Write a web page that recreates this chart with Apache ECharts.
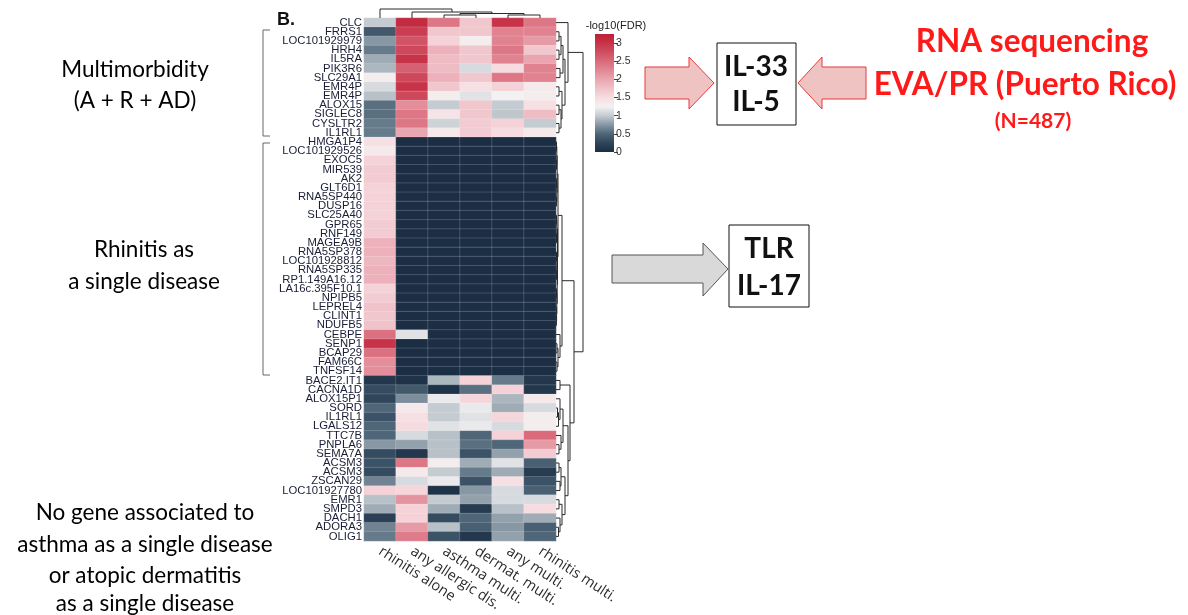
<!DOCTYPE html>
<html><head><meta charset="utf-8">
<script src="https://cdn.jsdelivr.net/npm/echarts@6/dist/echarts.min.js"></script>
<style>html,body{margin:0;padding:0;background:#fff}#c{width:1188px;height:615px}</style>
</head><body><div id="c"></div>
<script>
const genes = ['CLC','FRRS1','LOC101929979','HRH4','IL5RA','PIK3R6','SLC29A1','EMR4P','EMR4P','ALOX15','SIGLEC8','CYSLTR2','IL1RL1',
'HMGA1P4','LOC101929526','EXOC5','MIR539','AK2','GLT6D1','RNA5SP440','DUSP16','SLC25A40','GPR65','RNF149','MAGEA9B','RNA5SP378','LOC101928812','RNA5SP335','RP1.149A16.12','LA16c.395F10.1','NPIPB5','LEPREL4','CLINT1','NDUFB5','CEBPE','SENP1','BCAP29','FAM66C','TNFSF14',
'BACE2.IT1','CACNA1D','ALOX15P1','SORD','IL1RL1','LGALS12','TTC7B','PNPLA6','SEMA7A','ACSM3','ACSM3','ZSCAN29','LOC101927780','EMR1','SMPD3','DACH1','ADORA3','OLIG1'];
const conditions = ['rhinitis alone','any allergic dis.','asthma multi.','dermat. multi.','any multi.','rhinitis multi.'];

// -log10(FDR) per condition, one value per gene (row order above)
const rhinitisAlone = [1.0,0.4,0.75,0.6,0.85,0.9,1.3,1.1,0.95,0.55,0.55,0.6,0.6,
1.45,1.35,1.6,1.65,1.65,1.6,1.6,1.6,1.6,1.65,1.65,1.9,1.9,1.85,1.9,1.9,1.6,1.65,1.75,1.7,1.75,2.45,3.0,2.45,2.2,2.2,
0.1,0.3,0.25,0.5,0.35,0.5,0.5,0.75,0.3,0.35,0.3,0.65,1.6,0.95,0.85,0.2,0.65,0.6];
const anyAllergic = [3.1,2.9,2.7,2.8,3.0,2.6,2.8,3.0,2.8,2.2,2.4,2.4,2.0,
0,0,0,0,0,0,0,0,0,0,0,0,0,0,0,0,0,0,0,0,0,1.15,0,0,0,0,
0.05,0.4,0.7,1.35,1.45,1.5,1.1,0.8,0.1,2.4,1.35,1.1,1.55,2.15,1.6,1.6,2.1,2.35];
const asthmaMulti = [2.4,1.7,1.6,1.9,1.8,1.8,1.9,1.7,1.3,1.0,1.4,1.05,1.35,
0,0,0,0,0,0,0,0,0,0,0,0,0,0,0,0,0,0,0,0,0,0,0,0,0,0,
0.9,0.05,1.2,1.0,1.0,1.15,0.95,0.95,0.95,1.3,1.0,1.2,0.05,1.0,0.85,0.3,0.95,0.35];
const dermatMulti = [1.7,1.7,1.3,1.7,1.7,1.1,1.7,1.45,1.15,1.7,1.7,1.65,1.65,
0,0,0,0,0,0,0,0,0,0,0,0,0,0,0,0,0,0,0,0,0,0,0,0,0,0,
1.6,0.55,1.55,1.2,1.15,1.2,0.5,0.55,0.35,0.85,0.6,0.35,0.75,0.8,0.15,0.5,0.45,0.1];
const anyMulti = [3.0,2.3,2.3,2.4,2.3,1.5,2.4,1.6,1.25,1.0,0.98,1.6,1.5,
0,0,0,0,0,0,0,0,0,0,0,0,0,0,0,0,0,0,0,0,0,0,0,0,0,0,
0.6,1.6,0.9,0.85,1.55,1.1,1.6,0.5,0.8,1.15,0.85,1.45,1.1,1.1,0.95,0.8,0.75,0.8];
const rhinitisMulti = [2.4,2.3,2.1,1.7,2.0,2.3,2.3,1.35,1.3,1.45,1.8,1.0,1.35,
0,0,0,0,0,0,0,0,0,0,0,0,0,0,0,0,0,0,0,0,0,0,0,0,0,0,
0.1,0.1,1.35,1.1,1.3,1.3,2.5,2.1,1.65,0.45,0.15,0.35,0.45,1.1,1.5,0.85,0.45,0.5];

const legendTicks = [0,0.5,1,1.5,2,2.5,3];
const legendMax = 3.25;
// colours at -log10(FDR) = 0, 0.25, ..., 3.25
const palette = ['#1b2e44','#2f455a','#4f6678','#8797a4','#c4cbd1','#f4f1f2','#f6dce0','#f0c2c9','#e9a6b0','#e18895','#da6b7b','#d04d61','#c73348','#bd1f36'];

// dendrograms: [height, left, right], leaves = row / column index
const rowTree = [27,
  [12, 0, [9, [7, [5, [3,1,2], [3,3,4]], [4,5,6]], [6, [3,7,8], [5, [3,9,10], [3,11,12]]]]],
  [18,
    [6,
      [2, [1.2, [0.8,[0.5,13,14],[0.5,15,16]], [0.8,[0.5,17,18],[0.5,19,20]]],
          [1.5, [0.8,[0.5,21,22],[0.5,23,24]], [1.2, [0.8,[0.5,25,26],[0.5,27,28]], [0.8,[0.5,29,30],[0.6,31,[0.4,32,33]]]]]],
      [4, 34, [2, [1,35,36], [1,37,38]]]
    ],
    [14, [4,39,40], [12, [7, [4,41,[2.5,[1.5,42,43],44]], [5,45,[3,46,47]]], [9, [5,[3,48,49],[4,50,51]], [6,[3,52,53],[4,54,[2.5,55,56]]]]]]
  ]
];
const colTree = [9, 0, [6, 1, [4.5, [3,2,3], [3,4,5]]]];

const columns = [rhinitisAlone, anyAllergic, asthmaMulti, dermatMulti, anyMulti, rhinitisMulti];
const heatData = [];
columns.forEach((col, ci) => col.forEach((v, ri) => heatData.push([ci, ri, v])));

function treeSegs(node, out) {
  if (typeof node === 'number') return {pos: node, h: 0};
  const h = node[0];
  const a = treeSegs(node[1], out), b = treeSegs(node[2], out);
  out.push([a.h, a.pos, h, a.pos]);
  out.push([b.h, b.pos, h, b.pos]);
  out.push([h, a.pos, h, b.pos]);
  return {pos: (a.pos + b.pos) / 2, h: h};
}
const rowSegs = []; treeSegs(rowTree, rowSegs);
const colSegsRaw = []; treeSegs(colTree, colSegsRaw);
const colSegs = colSegsRaw.map(s => [s[1], s[0], s[3], s[2]]);

const chart = echarts.init(document.getElementById('c'), null, {renderer: 'canvas'});

function lineItem(params, api) {
  const a = api.coord([api.value(0), api.value(1)]);
  const b = api.coord([api.value(2), api.value(3)]);
  return {type: 'line', shape: {x1: a[0], y1: a[1], x2: b[0], y2: b[1]}, style: {stroke: '#2a2a2a', lineWidth: 1}};
}

const gradStops = palette.map((c, i) => ({offset: i / (palette.length - 1), color: c}));
const txt = (x, y, text, font, fill, align) => ({type: 'text', x: x, y: y, style: {text: text, font: font, fill: fill || '#000', align: align || 'center', verticalAlign: 'middle'}});
const labelFont = '22.5px Lato';

chart.setOption({
  animation: false,
  grid: [
    {left: 364, top: 18, width: 192, height: 523},
    {left: 556, top: 18, width: 30, height: 523},
    {left: 364, top: 8, width: 192, height: 10},
    {left: 595, top: 34, width: 19, height: 118}
  ],
  xAxis: [
    {type: 'category', gridIndex: 0, data: conditions, position: 'bottom',
     axisLine: {show: false}, axisTick: {show: false}, splitLine: {show: false},
     axisLabel: {interval: 0, rotate: -33, margin: 9, fontFamily: 'Open Sans', fontSize: 14.5, color: '#2b2b2b'}},
    {type: 'value', gridIndex: 1, min: 0, max: 30, show: false},
    {type: 'value', gridIndex: 2, min: -0.5, max: 5.5, show: false},
    {type: 'category', gridIndex: 3, data: [''], show: false}
  ],
  yAxis: [
    {type: 'category', gridIndex: 0, data: genes, inverse: true,
     axisLine: {show: false}, axisTick: {show: false}, splitLine: {show: false},
     axisLabel: {interval: 0, margin: 2, fontFamily: 'Liberation Sans', fontSize: 11.3, color: '#1a1e36'}},
    {type: 'value', gridIndex: 1, min: -0.5, max: 56.5, inverse: true, show: false},
    {type: 'value', gridIndex: 2, min: 0, max: 10, show: false},
    {type: 'value', gridIndex: 3, min: 0, max: legendMax, interval: 0.5, position: 'right',
     axisLine: {show: false}, splitLine: {show: false},
     axisTick: {show: true, length: 4, customValues: legendTicks, lineStyle: {color: '#444'}},
     axisLabel: {margin: 2, fontSize: 10.5, color: '#333', fontFamily: 'Liberation Sans', customValues: legendTicks}}
  ],
  visualMap: {type: 'continuous', show: false, min: 0, max: legendMax, dimension: 2, seriesIndex: 0, inRange: {color: palette}},
  series: [
    {type: 'heatmap', xAxisIndex: 0, yAxisIndex: 0, data: heatData,
     itemStyle: {borderColor: 'rgba(255,255,255,0.28)', borderWidth: 0.6}, emphasis: {disabled: true}},
    {type: 'custom', xAxisIndex: 1, yAxisIndex: 1, data: rowSegs, renderItem: lineItem, silent: true},
    {type: 'custom', xAxisIndex: 2, yAxisIndex: 2, data: colSegs, renderItem: lineItem, silent: true},
    {type: 'bar', xAxisIndex: 3, yAxisIndex: 3, data: [legendMax], barWidth: '100%', silent: true,
     itemStyle: {color: new echarts.graphic.LinearGradient(0, 1, 0, 0, gradStops)}}
  ],
  graphic: [
    txt(277, 20, 'B.', 'bold 18px "Liberation Sans"', '#111', 'left'),
    txt(616, 26, '-log10(FDR)', '11px "Liberation Sans"', '#222'),
    {type: 'polyline', shape: {points: [[270, 30], [263, 30], [263, 136], [270, 136]]}, style: {stroke: '#666', lineWidth: 1, fill: null}},
    {type: 'polyline', shape: {points: [[270, 143], [263, 143], [263, 375], [270, 375]]}, style: {stroke: '#666', lineWidth: 1, fill: null}},
    txt(135, 70, 'Multimorbidity', labelFont),
    txt(135, 101, '(A + R + AD)', labelFont),
    txt(144, 250, 'Rhinitis as', labelFont),
    txt(144, 282, 'a single disease', labelFont),
    txt(145, 513, 'No gene associated to', labelFont),
    txt(145, 545, 'asthma as a single disease', labelFont),
    txt(145, 576, 'or atopic dermatitis', labelFont),
    txt(145, 604, 'as a single disease', labelFont),
    {type: 'polygon', shape: {points: [[645, 67], [689, 67], [689, 57], [714, 83], [689, 109], [689, 99], [645, 99]]}, style: {fill: '#efc3c1', stroke: '#e8393a', lineWidth: 1}},
    {type: 'polygon', shape: {points: [[798, 83], [822, 57], [822, 67], [866, 67], [866, 99], [822, 99], [822, 109]]}, style: {fill: '#efc3c1', stroke: '#e8393a', lineWidth: 1}},
    {type: 'rect', shape: {x: 717, y: 43, width: 79, height: 82}, style: {fill: '#fff', stroke: '#111', lineWidth: 1}},
    txt(756, 67, 'IL-33', 'bold 28px Lato', '#111'),
    txt(756, 102, 'IL-5', 'bold 28px Lato', '#111'),
    {type: 'polygon', shape: {points: [[612, 255], [703, 255], [703, 243], [728, 269], [703, 296], [703, 283], [612, 283]]}, style: {fill: '#d9d9d9', stroke: '#555', lineWidth: 1}},
    {type: 'rect', shape: {x: 729, y: 225, width: 80, height: 82}, style: {fill: '#fff', stroke: '#111', lineWidth: 1}},
    txt(769, 249, 'TLR', 'bold 28px Lato', '#111'),
    txt(769, 286, 'IL-17', 'bold 28px Lato', '#111'),
    txt(1032, 42, 'RNA sequencing', 'bold 31.5px Lato', '#ff1a1a'),
    txt(1025, 85, 'EVA/PR (Puerto Rico)', 'bold 31.5px Lato', '#ff1a1a'),
    txt(1033, 121, '(N=487)', 'bold 21px Lato', '#ff1a1a')
  ]
});
</script></body></html>
